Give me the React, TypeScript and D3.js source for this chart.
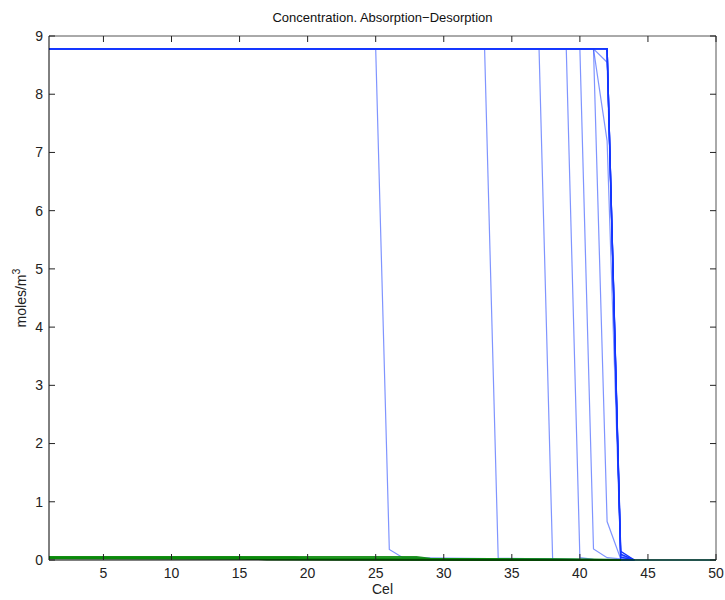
import React from "react";
import * as d3 from "d3";

// ---- data ----
const xTicks = [5, 10, 15, 20, 25, 30, 35, 40, 45, 50];
const yTicks = [0, 1, 2, 3, 4, 5, 6, 7, 8, 9];
const title = "Concentration. Absorption\u2212Desorption";
const xLabel = "Cel";

// thin (lighter) blue concentration profiles: [cell, moles/m3]
const blueThin1 = [[1, 8.78], [25, 8.78], [26, 0.18], [27, 0.04], [44, 0]];
const blueThin2 = [[1, 8.78], [33, 8.78], [34, 0.03], [44, 0]];
const blueThin3 = [[1, 8.78], [37, 8.78], [38, 0.01], [44, 0]];
const blueThin4 = [[1, 8.78], [39, 8.78], [40, 0.04], [41, 0.01], [44, 0]];
const blueThin5 = [[1, 8.78], [40, 8.78], [41, 0.19], [42, 0.04], [44, 0]];
const blueThin6 = [[1, 8.78], [41, 8.78], [42, 0.66], [43, 0.02], [44, 0]];
const blueThin7 = [[1, 8.78], [41, 8.78], [42, 7.2], [43, 0.05], [44, 0]];
const blueThin8 = [[1, 8.78], [41, 8.78], [42, 8.55], [43, 0.08], [44, 0]];

// thick (saturated) blue profiles near steady state
const blueThick1 = [[1, 8.78], [42, 8.78], [43, 0.15], [44, 0]];
const blueThick2 = [[1, 8.78], [42, 8.78], [43, 0.1], [44, 0]];
const blueThick3 = [[1, 8.78], [42, 8.78], [43, 0.05], [44, 0]];
const blueThick4 = [[1, 8.78], [42, 8.78], [43, 0.0], [44, 0]];

// green profiles near zero
const green1 = [[1, 0.05], [28, 0.05], [29, 0.02], [35, 0.01], [43, 0]];
const green2 = [[1, 0.04], [19, 0.04], [20, 0.02], [43, 0]];
const green3 = [[1, 0.035], [15, 0.035], [17, 0.01], [43, 0]];
const green4 = [[1, 0.03], [38, 0.005], [43, 0]];
const tealTail = [[43, 0], [50, 0]];

const thinSeries = [blueThin1, blueThin2, blueThin3, blueThin4, blueThin5, blueThin6, blueThin7, blueThin8];
const thickSeries = [blueThick1, blueThick2, blueThick3, blueThick4];
const greenSeries = [green1, green2, green3, green4];

export default function App() {
  const W = 725, H = 600;
  const left = 49, right = 716, top = 36, bottom = 560;
  const x = d3.scaleLinear().domain([1, 50]).range([left, right]);
  const y = d3.scaleLinear().domain([0, 9]).range([bottom, top]);
  const line = d3.line<number[]>().x((d) => x(d[0])).y((d) => y(d[1]));
  const font = "'Liberation Sans', Arial, Helvetica, sans-serif";

  return (
    <svg width={W} height={H} style={{ position: "absolute", left: 0, top: 0, background: "#fff" }} fontFamily={font}>
      <rect x={0} y={0} width={W} height={H} fill="#fff" />
      {/* data lines */}
      <g fill="none">
        {thinSeries.map((s, i) => (
          <path key={"t" + i} d={line(s) || ""} stroke="#2a4dff" strokeOpacity={0.6} strokeWidth={1.2} />
        ))}
        {thickSeries.map((s, i) => (
          <path key={"k" + i} d={line(s) || ""} stroke="#1436ff" strokeWidth={1.4} />
        ))}
        {greenSeries.map((s, i) => (
          <path key={"g" + i} d={line(s) || ""} stroke="#0b8a0b" strokeOpacity={0.9} strokeWidth={2.2} />
        ))}
        <path d={line(tealTail) || ""} stroke="#0a8a78" strokeWidth={1.5} />
      </g>
      {/* axes box */}
      <line x1={left} x2={right} y1={top} y2={top} stroke="#555" strokeWidth={1} />
      <line x1={right} x2={right} y1={top} y2={bottom} stroke="#555" strokeWidth={1} />
      <line x1={left} x2={left} y1={top} y2={bottom} stroke="#000" strokeWidth={1} />
      <line x1={left} x2={right} y1={bottom} y2={bottom} stroke="#000" strokeWidth={1} />
      {/* x ticks */}
      {xTicks.map((t) => (
        <g key={"xt" + t}>
          <line x1={x(t)} x2={x(t)} y1={bottom} y2={bottom - 6} stroke="#222" />
          <line x1={x(t)} x2={x(t)} y1={top} y2={top + 6} stroke="#222" />
          <text x={x(t)} y={578} textAnchor="middle" fontSize={14} fill="#222">{t}</text>
        </g>
      ))}
      {/* y ticks */}
      {yTicks.map((t) => (
        <g key={"yt" + t}>
          <line x1={left} x2={left + 6} y1={y(t)} y2={y(t)} stroke="#222" />
          <line x1={right} x2={right - 6} y1={y(t)} y2={y(t)} stroke="#222" />
          <text x={43} y={y(t)} dy="0.35em" textAnchor="end" fontSize={14} fill="#222">{t}</text>
        </g>
      ))}
      {/* labels */}
      <text x={(left + right) / 2} y={22} textAnchor="middle" fontSize={13} fill="#111">{title}</text>
      <text x={(left + right) / 2} y={594} textAnchor="middle" fontSize={14} fill="#222">{xLabel}</text>
      <text transform={`translate(26, ${(top + bottom) / 2}) rotate(-90)`} textAnchor="middle" fontSize={14} fill="#222">
        moles/m<tspan dy={-6} fontSize={10.5}>3</tspan>
      </text>
    </svg>
  );
}
